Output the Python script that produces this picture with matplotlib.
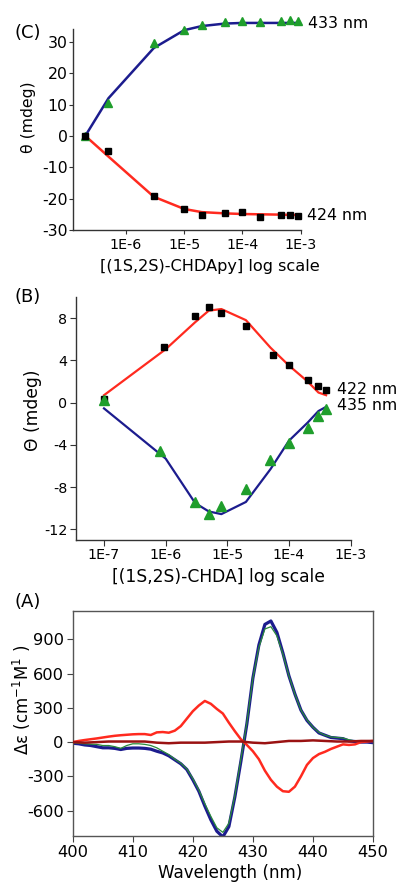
import matplotlib
matplotlib.use("Agg")
import matplotlib.pyplot as plt
from matplotlib.ticker import NullLocator

plt.rcParams['font.family'] = ['DejaVu Sans']
plt.rcParams['mathtext.fontset'] = 'dejavusans'
plt.rcParams['axes.unicode_minus'] = False

# ---- panel C data: [(1S,2S)-CHDApy] titration ----
c_conc = [2e-7, 5e-7, 3e-6, 1e-5, 2e-5, 5e-5, 1e-4, 2e-4, 4.5e-4, 6.5e-4, 9e-4]
c_433_pts = [0, 10.6, 29.6, 33.6, 35.2, 36.2, 36.7, 36.4, 36.7, 36.8, 36.7]
c_433_fit = [0, 12.0, 28.0, 33.7, 35.0, 35.8, 36.0, 36.0, 36.0, 36.0, 36.0]
c_424_pts = [0, -4.7, -19.1, -23.3, -25.2, -24.5, -24.4, -26.0, -25.2, -25.2, -25.5]
c_424_fit = [0, -6.6, -19.4, -23.3, -24.3, -24.7, -24.9, -25.0, -25.1, -25.2, -25.2]

# ---- panel B data: [(1S,2S)-CHDA] titration ----
b_conc_sq = [1e-7, 9.5e-7, 3e-6, 5e-6, 8e-6, 2e-5, 5.4e-5, 1e-4, 2e-4, 3e-4, 4e-4]
b_422_pts = [0.3, 5.3, 8.2, 9.0, 8.5, 7.2, 4.5, 3.6, 2.15, 1.6, 1.2]
b_fit_conc = [1e-7, 1e-6, 3e-6, 5e-6, 8e-6, 2e-5, 5e-5, 1e-4, 2e-4, 3e-4, 4e-4]
b_422_fit = [0.7, 5.05, 7.6, 8.7, 8.85, 7.8, 5.2, 3.5, 2.0, 0.95, 0.7]
b_conc_tri = [1e-7, 8e-7, 3e-6, 5e-6, 8e-6, 2e-5, 5e-5, 1e-4, 2e-4, 3e-4, 4e-4]
b_435_pts = [0.25, -4.6, -9.4, -10.5, -9.8, -8.2, -5.4, -3.8, -2.4, -1.25, -0.6]
b_435_fit = [-0.55, -5.3, -9.5, -10.3, -10.55, -9.4, -6.3, -3.6, -1.9, -0.8, -0.4]

# ---- panel A data: CD spectra ----
wl = list(range(400, 451))
spec_blue = [-10, -15, -25, -30, -40, -50, -50, -55, -65, -55, -52, -52, -55,
             -62, -80, -95, -120, -155, -190, -240, -330, -430, -560, -680,
             -780, -830, -740, -480, -170, 160, 560, 850, 1030, 1060, 960,
             780, 580, 420, 280, 190, 130, 80, 60, 40, 35, 30, 10, 5, 0, 0, -5]
spec_green = [-5, -10, -15, -18, -20, -30, -30, -40, -55, -30, -15, -15, -20,
              -30, -50, -80, -110, -150, -185, -235, -320, -420, -540, -650,
              -750, -790, -710, -470, -150, 170, 560, 830, 990, 1010, 930,
              770, 580, 420, 280, 195, 130, 85, 60, 45, 40, 35, 20, 10, 10, 10, 10]
spec_red = [0, 10, 18, 25, 32, 40, 48, 55, 60, 64, 68, 70, 70, 62, 85, 88, 82,
            100, 140, 205, 270, 320, 360, 335, 290, 250, 170, 95, 25, -25, -80,
            -150, -250, -330, -390, -430, -435, -390, -300, -200, -140, -105,
            -85, -60, -40, -20, -25, -20, 0, 5, 10]
wl_dark = list(range(400, 451, 2))
spec_dark = [0, -5, 0, 5, 5, 5, 5, -5, -10, -5, -5, -5, 0, 5, 5, -5, -10, 0,
             10, 10, 15, 10, 5, 5, 10, 10]

navy = '#1c1c8e'
red = '#ff2a1f'
green = '#1f9e2c'
W, H = 399, 888


def frac(x, y):
    return x / W, 1 - y / H


fig = plt.figure(figsize=(W / 100, H / 100), dpi=100)

# ================= (C) =================
axc = fig.add_axes([73.3 / W, 1 - 230 / H, 227.4 / W, 210.2 / H])
axc.plot(c_conc, c_433_fit, color=navy, lw=1.8, zorder=2)
axc.plot(c_conc, c_424_fit, color=red, lw=1.8, zorder=2)
axc.plot(c_conc, c_433_pts, '^', color=green, ms=6, mec=green, clip_on=False, zorder=3)
axc.plot(c_conc, c_424_pts, 's', color='black', ms=4.3, clip_on=False, zorder=3)
axc.set_xscale('log')
axc.set_xlim(10 ** -6.905, 1e-3)
axc.set_ylim(-30, 37)
axc.set_xticks([1e-6, 1e-5, 1e-4, 1e-3], ['1E-6', '1E-5', '1E-4', '1E-3'])
axc.set_yticks([-30, -20, -10, 0, 10, 20, 30])
axc.xaxis.set_minor_locator(NullLocator())
axc.spines['left'].set_bounds(-30, 34)
axc.tick_params(axis='x', labelsize=10.3, length=3, pad=2.5, color='#333')
axc.tick_params(axis='y', labelsize=11.3, length=3, pad=1, color='#333')

# ================= (B) =================
axb = fig.add_axes([75.7 / W, 1 - 540 / H, 275 / W, 243.1 / H])
axb.plot(b_fit_conc, b_422_fit, color=red, lw=1.6, zorder=2)
axb.plot(b_fit_conc, b_435_fit, color=navy, lw=1.6, zorder=2)
axb.plot(b_conc_sq, b_422_pts, 's', color='black', ms=4.8, zorder=3)
axb.plot(b_conc_tri, b_435_pts, '^', color=green, ms=7, mec=green, zorder=3)
axb.set_xscale('log')
axb.set_xlim(10 ** -7.459, 1e-3)
axb.set_ylim(-13, 10)
axb.set_xticks([1e-7, 1e-6, 1e-5, 1e-4, 1e-3], ['1E-7', '1E-6', '1E-5', '1E-4', '1E-3'])
axb.set_yticks([-12, -8, -4, 0, 4, 8])
axb.xaxis.set_minor_locator(NullLocator())
axb.tick_params(axis='both', labelsize=10.3, length=4, pad=2, color='#333')

for ax in (axc, axb):
    ax.spines['top'].set_visible(False)
    ax.spines['right'].set_visible(False)
    for s in ('left', 'bottom'):
        ax.spines[s].set_color('#333')
        ax.spines[s].set_linewidth(1)

# ================= (A) =================
axa = fig.add_axes([72.7 / W, 1 - 836 / H, 300.3 / W, 225.3 / H])
axa.plot(wl, spec_blue, color=navy, lw=2.3, zorder=2)
axa.plot(wl, spec_green, color='#2a8a3a', lw=0.9, zorder=3)
axa.plot(wl, spec_red, color=red, lw=1.8, zorder=4)
axa.plot(wl_dark, spec_dark, color='#9a1212', lw=1.8, zorder=5)
axa.set_xlim(400, 450)
axa.set_ylim(-822, 1150)
axa.set_xticks([400, 410, 420, 430, 440, 450])
axa.set_yticks([-600, -300, 0, 300, 600, 900])
axa.tick_params(axis='both', labelsize=11.7, length=4, pad=2.5, color='#444')
for s in axa.spines.values():
    s.set_color('#555')
    s.set_linewidth(1)

# ---- labels ----
fig.text(*frac(28, 33), '(C)', fontsize=13, ha='center', va='center')
fig.text(*frac(28, 297), '(B)', fontsize=13, ha='center', va='center')
fig.text(*frac(28, 602), '(A)', fontsize=13, ha='center', va='center')

fig.text(*frac(308, 23), '433 nm', fontsize=11.3, ha='left', va='center')
fig.text(*frac(307, 215), '424 nm', fontsize=11.3, ha='left', va='center')
fig.text(*frac(337, 389), '422 nm', fontsize=11.3, ha='left', va='center')
fig.text(*frac(337, 405), '435 nm', fontsize=11.3, ha='left', va='center')

fig.text(*frac(210, 267), '[(1S,2S)-CHDApy] log scale', fontsize=11.6, ha='center', va='center')
fig.text(*frac(29, 117), 'θ (mdeg)', fontsize=11.3, ha='center', va='center', rotation=90)
fig.text(*frac(218, 577), '[(1S,2S)-CHDA] log scale', fontsize=12.3, ha='center', va='center')
fig.text(*frac(33, 410), 'Θ (mdeg)', fontsize=12.3, ha='center', va='center', rotation=90)
fig.text(*frac(230, 873), 'Wavelength (nm)', fontsize=12.1, ha='center', va='center')
fig.text(*frac(22, 700), 'Δε (cm$^{-1}$M$^{1}$ )', fontsize=12, ha='center', va='center', rotation=90)

fig.savefig('out.png', dpi=100)
